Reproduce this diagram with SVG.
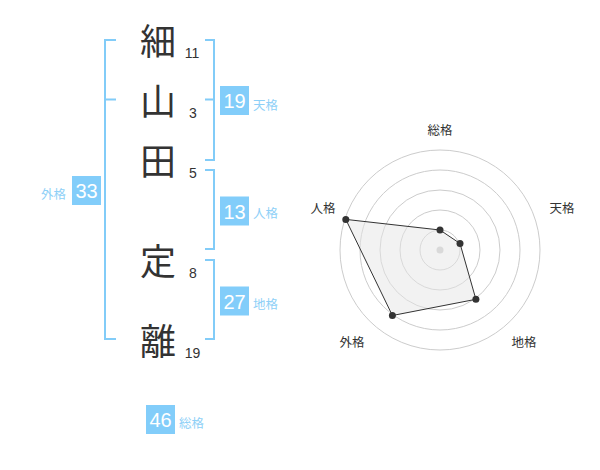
<svg xmlns="http://www.w3.org/2000/svg" width="600" height="470" viewBox="0 0 600 470">
<style>
.bg{fill:#ffffff}
.kanji{font-family:"Noto Sans CJK JP","Noto Sans CJK SC",sans-serif;font-size:36px;fill:#333333;text-anchor:middle}
.num{font-family:"Liberation Sans",Arial,sans-serif;font-size:14px;fill:#333333;text-anchor:middle}
.br{fill:none;stroke:#82ccf8;stroke-width:2}
.box{fill:#82cdfa}
.boxnum{font-family:"Liberation Sans",Arial,sans-serif;font-size:20px;fill:#ffffff;text-anchor:middle}
.lbl{font-family:"Noto Sans CJK JP","Noto Sans CJK SC",sans-serif;font-size:12.5px;fill:#8ed0f7}
.ring{fill:none;stroke:#cccccc;stroke-width:1}
.axis{font-family:"Noto Sans CJK JP","Noto Sans CJK SC",sans-serif;font-size:12.5px;fill:#333333;text-anchor:middle}
.pt{fill:#333333}
</style>
<rect class="bg" x="0" y="0" width="600" height="470"/>

<g id="connectors">
  <path class="br" d="M116,40 H105 V339 H116 M105,99.5 H116"/>
  <path class="br" d="M205,40 H214 V160 H205 M214,99.5 H205"/>
  <path class="br" d="M205,170 H214 V249 H205"/>
  <path class="br" d="M205,260 H214 V339 H205"/>
</g>

<g id="char-1"><text class="kanji" x="158" y="55">細</text><text class="num" x="192" y="58">11</text></g>
<g id="char-2"><text class="kanji" x="158" y="115">山</text><text class="num" x="193" y="118">3</text></g>
<g id="char-3"><text class="kanji" x="158" y="175">田</text><text class="num" x="193" y="178">5</text></g>
<g id="char-4"><text class="kanji" x="158" y="275">定</text><text class="num" x="193" y="278">8</text></g>
<g id="char-5"><text class="kanji" x="158" y="355">離</text><text class="num" x="192.5" y="358">19</text></g>

<g id="tenkaku"><rect class="box" x="220" y="86" width="29" height="29"/><text class="boxnum" x="234.5" y="108">19</text><text class="lbl" x="253" y="110">天格</text></g>
<g id="jinkaku"><rect class="box" x="220" y="196.5" width="29" height="29"/><text class="boxnum" x="234.5" y="218.5">13</text><text class="lbl" x="253" y="218">人格</text></g>
<g id="chikaku"><rect class="box" x="220" y="286.5" width="29" height="29"/><text class="boxnum" x="234.5" y="308.5">27</text><text class="lbl" x="253" y="309">地格</text></g>
<g id="gaikaku"><rect class="box" x="72" y="176" width="29" height="29"/><text class="boxnum" x="86.5" y="198">33</text><text class="lbl" x="66" y="199" text-anchor="end">外格</text></g>
<g id="soukaku"><rect class="box" x="146" y="405" width="29" height="29"/><text class="boxnum" x="160.5" y="427">46</text><text class="lbl" x="179" y="428">総格</text></g>

<g id="radar">
  <circle class="ring" cx="440" cy="250" r="20"/>
  <circle class="ring" cx="440" cy="250" r="40"/>
  <circle class="ring" cx="440" cy="250" r="60"/>
  <circle class="ring" cx="440" cy="250" r="80"/>
  <circle class="ring" cx="440" cy="250" r="100"/>
  <circle cx="440" cy="250" r="3.5" fill="#cccccc"/>
  <polygon points="440,230 460,243.5 475.9,299.3 392.4,315.5 345.8,219.4" fill="#e6e6e6" fill-opacity="0.5" stroke="#333333" stroke-width="1"/>
  <circle class="pt" cx="440" cy="230" r="3.5"/>
  <circle class="pt" cx="460" cy="243.5" r="3.5"/>
  <circle class="pt" cx="475.9" cy="299.3" r="3.5"/>
  <circle class="pt" cx="392.4" cy="315.5" r="3.5"/>
  <circle class="pt" cx="345.8" cy="219.4" r="3.5"/>
  <text class="axis" x="440" y="135">総格</text>
  <text class="axis" x="562" y="213">天格</text>
  <text class="axis" x="524" y="347">地格</text>
  <text class="axis" x="352" y="347">外格</text>
  <text class="axis" x="323" y="213">人格</text>
</g>
</svg>
